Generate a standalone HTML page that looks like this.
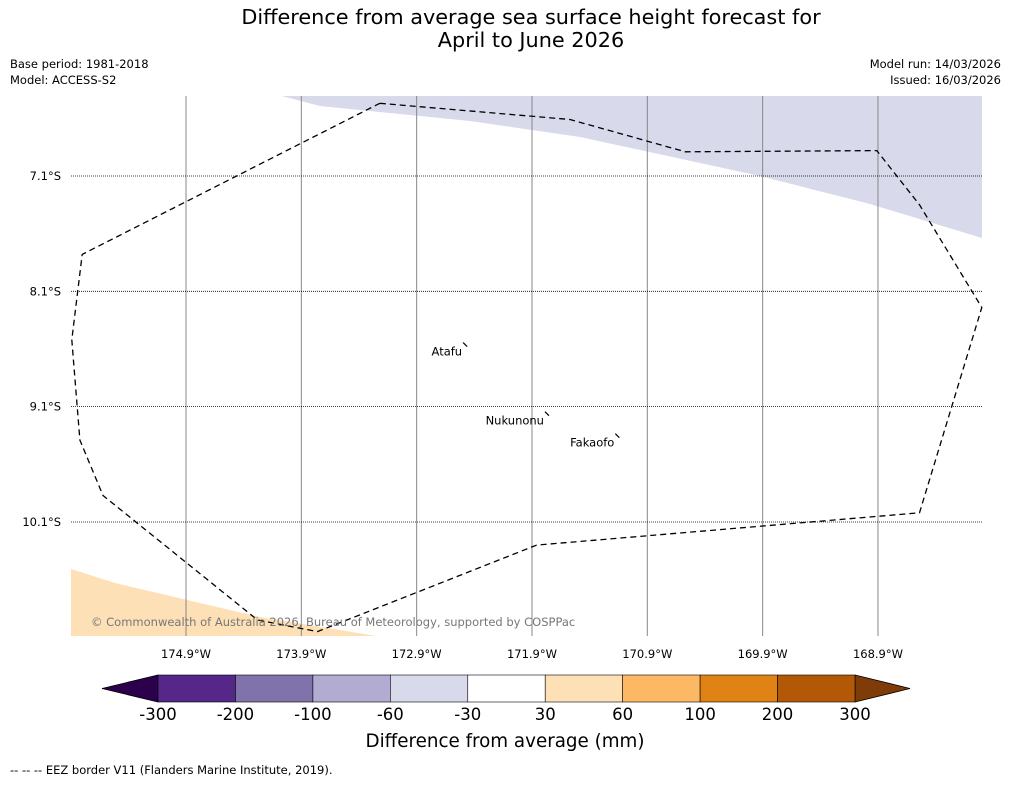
<!DOCTYPE html>
<html><head><meta charset="utf-8"><style>
body{margin:0;background:#fff;font-family:"Liberation Sans","DejaVu Sans",sans-serif;}
svg text{font-family:"DejaVu Sans","Liberation Sans",sans-serif;}
</style></head><body>
<svg id="c" width="1011" height="781" xmlns="http://www.w3.org/2000/svg">
<rect width="1011" height="781" fill="#fff"/>
<text x="531" y="24" font-size="20.8" text-anchor="middle">Difference from average sea surface height forecast for</text>
<text x="531" y="47" font-size="20.8" text-anchor="middle">April to June 2026</text>
<text x="10" y="68" font-size="11.5">Base period: 1981-2018</text>
<text x="10" y="84" font-size="11.5">Model: ACCESS-S2</text>
<text x="1001" y="68" font-size="11.5" text-anchor="end">Model run: 14/03/2026</text>
<text x="1001" y="84" font-size="11.5" text-anchor="end">Issued: 16/03/2026</text>
<g id="map">
<path d="M282,96 L320,106 L470,121 L580,137 L760,176 L870,204 L982,238 L982,96 Z" fill="#d8d9ea"/>
<path d="M71,569 L115,583 L260,617 L376,636 L71,636 Z" fill="#fee0b6"/>
</g>
<g id="cbar"></g>
<text x="505" y="747" font-size="18.3" text-anchor="middle">Difference from average (mm)</text>
<text x="10" y="774" font-size="11.5">--  --  -- EEZ border V11 (Flanders Marine Institute, 2019).</text>
</svg>
<script>
const lonTicks=[-174.9,-173.9,-172.9,-171.9,-170.9,-169.9,-168.9];
const latTicks=[-7.1,-8.1,-9.1,-10.1];
const eezLon=[-173.22,-171.57,-170.57,-168.91,-168.54,-168.00,-168.54,-171.86,-173.76,-174.28,-175.62,-175.82,-175.89,-175.80,-173.22];
const eezLat=[-6.47,-6.61,-6.89,-6.88,-7.35,-8.24,-10.02,-10.30,-11.05,-10.95,-9.87,-9.39,-8.52,-7.78,-6.47];
const islandNames=['Atafu','Nukunonu','Fakaofo'];
const islandLon=[-172.48,-171.77,-171.16];
const islandLat=[-8.57,-9.17,-9.36];
const cbLabels=['-300','-200','-100','-60','-30','30','60','100','200','300'];
const cbColors=['#542788','#8073ac','#b2abd2','#d8daeb','#ffffff','#fee0b6','#fdb863','#e08214','#b35806'];
const NS='http://www.w3.org/2000/svg';
const X0=71,X1=982,Y0=96,Y1=636;
const xs=lon=>186+(lon+174.9)*115.33;
const ys=lat=>176+(-7.1-lat)*115.33;
const svg=document.getElementById('c'),map=document.getElementById('map'),cb=document.getElementById('cbar');
function mk(t,a,p){const e=document.createElementNS(NS,t);for(const k in a)e.setAttribute(k,a[k]);(p||svg).appendChild(e);return e;}
lonTicks.forEach(l=>{
 const x=xs(l);
 const e=mk('line',{x1:x,x2:x,y1:Y0,y2:Y1,stroke:'#888','stroke-width':1},map);
 
 
 const t=mk('text',{x:x,y:658,'font-size':11.5,'text-anchor':'middle'});
 t.textContent=Math.abs(l).toFixed(1)+'°W';
 
 
});
latTicks.forEach(l=>{
 const y=ys(l);
 const e=mk('line',{x1:X0,x2:X1,y1:y,y2:y,stroke:'#000','stroke-width':0.8,'stroke-dasharray':'1,1'},map);
 
 
 const t=mk('text',{x:61,y:y+4,'font-size':11.5,'text-anchor':'end'});
 t.textContent=Math.abs(l).toFixed(1)+'°S';
 
 
});
let d='';eezLon.forEach((l,i)=>{d+=(i?'L':'M')+xs(l).toFixed(1)+','+ys(eezLat[i]).toFixed(1);});
const eez=mk('path',{d:d,fill:'none',stroke:'#000','stroke-width':1.3,'stroke-dasharray':'6,4'},map);


islandNames.forEach((n,i)=>{
 const x=xs(islandLon[i]),y=ys(islandLat[i]);
 const m=mk('path',{d:`M${x-2},${y-3} L${x+2},${y+1}`,stroke:'#000','stroke-width':1.2},map);
 
 
 const t=mk('text',{x:x-3,y:y+10,'font-size':11.5,'text-anchor':'end'});
 t.textContent=n;
 
 
});
const cr=mk('text',{x:91,y:626,'font-size':11.5,fill:'#777'});
cr.textContent='© Commonwealth of Australia 2026, Bureau of Meteorology, supported by COSPPac';


const CB0=158,CB1=855,CY0=675,CY1=702,w=(CB1-CB0)/cbColors.length;
const lt=mk('path',{d:`M${CB0},${CY0} L102,${(CY0+CY1)/2} L${CB0},${CY1} Z`,fill:'#2d004b',stroke:'#000','stroke-width':0.8},cb);


const rt=mk('path',{d:`M${CB1},${CY0} L910,${(CY0+CY1)/2} L${CB1},${CY1} Z`,fill:'#7f3b08',stroke:'#000','stroke-width':0.8},cb);


cbColors.forEach((c,i)=>{
 const r=mk('rect',{x:CB0+i*w,y:CY0,width:w,height:CY1-CY0,fill:c,stroke:'#000','stroke-width':0.6},cb);
 
 
});
cbLabels.forEach((s,i)=>{
 const t=mk('text',{x:CB0+i*w,y:720,'font-size':16.5,'text-anchor':'middle'});
 t.textContent=s;
 
 
});
</script>
</body></html>
